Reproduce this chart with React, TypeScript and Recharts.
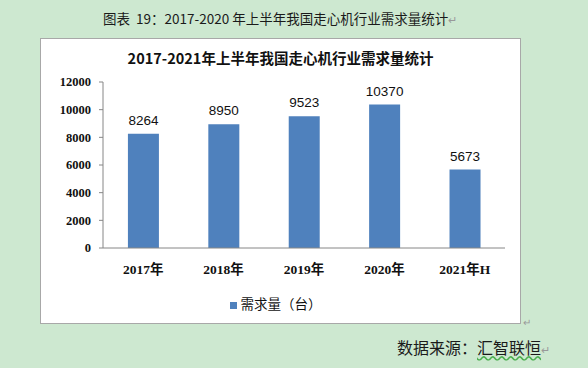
import React from 'react';
import { BarChart, Bar, XAxis, YAxis, Legend, LabelList } from 'recharts';

const years = ['2017年', '2018年', '2019年', '2020年', '2021年H'];
const demand = [8264, 8950, 9523, 10370, 5673];
const yTicks = [0, 2000, 4000, 6000, 8000, 10000, 12000];
const bandEdges = [0, 1, 2, 3, 4, 5];

const data = years.map((year, i) => ({ year, demand: demand[i], pos: i + 0.5 }));

const cjk = "'Noto Sans CJK SC', 'Noto Sans', sans-serif";
const tickFont = "'Liberation Serif', 'Noto Sans CJK SC', serif";

const App: React.FC = () => {
  return (
    <div style={{ position: 'fixed', left: 0, top: 0, width: 588, height: 368, background: '#cde8d0', overflow: 'hidden' }}>
      <div style={{ position: 'absolute', left: 103, top: 8, fontFamily: cjk, fontSize: 13.5, color: '#1a1a1a', whiteSpace: 'nowrap' }}>
        图表&nbsp; 19：2017-2020 年上半年我国走心机行业需求量统计<span style={{ color: '#999', fontSize: 11 }}>↵</span>
      </div>

      <div style={{ position: 'absolute', left: 40, top: 38, width: 479, height: 284, background: '#fff', border: '1px solid #a8a8a8' }}>
        <div style={{ position: 'absolute', left: 0, top: 8, width: 479, textAlign: 'center', fontFamily: cjk, fontSize: 14.5, fontWeight: 700, color: '#111' }}>
          2017-2021年上半年我国走心机行业需求量统计
        </div>
        <BarChart width={479} height={284} data={data} margin={{ top: 43, right: 15, left: 0, bottom: 0 }} barCategoryGap="31%">
          <XAxis xAxisId="edge" type="number" dataKey="pos" domain={[0, 5]} ticks={bandEdges} height={0} tick={false} axisLine={false} tickLine={{ stroke: '#868686' }} tickSize={5} />
          <XAxis xAxisId="cat" dataKey="year" height={30} axisLine={{ stroke: '#868686' }} tickLine={false} tickMargin={10}
            tick={{ fontFamily: tickFont, fontSize: 13.5, fontWeight: 700, fill: '#111' }} />
          <YAxis domain={[0, 12000]} ticks={yTicks} width={62} axisLine={{ stroke: '#868686' }} tickLine={{ stroke: '#868686' }} tickSize={4} tickMargin={8}
            tick={{ fontFamily: tickFont, fontSize: 12.5, fontWeight: 700, fill: '#111' }} />
          <Legend verticalAlign="bottom" height={45} iconType="square" iconSize={7}
            wrapperStyle={{ top: 254, left: 0, width: 479, fontFamily: cjk, fontSize: 13.5, color: '#111' }}
            formatter={(v: string) => <span style={{ color: '#111' }}>{v}</span>} />
          <Bar xAxisId="cat" dataKey="demand" name="需求量（台）" fill="#4f81bd" isAnimationActive={false}>
            <LabelList dataKey="demand" position="top" offset={9} style={{ fontFamily: "'Liberation Sans', sans-serif", fontSize: 13.5, fill: '#111' }} />
          </Bar>
        </BarChart>
      </div>
      <div style={{ position: 'absolute', left: 523, top: 314, fontSize: 10, color: '#999', fontFamily: cjk }}>↵</div>

      <div style={{ position: 'absolute', left: 397, top: 335, fontFamily: cjk, fontSize: 16, color: '#1a1a1a', whiteSpace: 'nowrap' }}>
        数据来源：<span style={{ textDecoration: 'underline wavy #4caf50' }}>汇智联恒</span><span style={{ color: '#999', fontSize: 11 }}>↵</span>
      </div>
    </div>
  );
};

export default App;
